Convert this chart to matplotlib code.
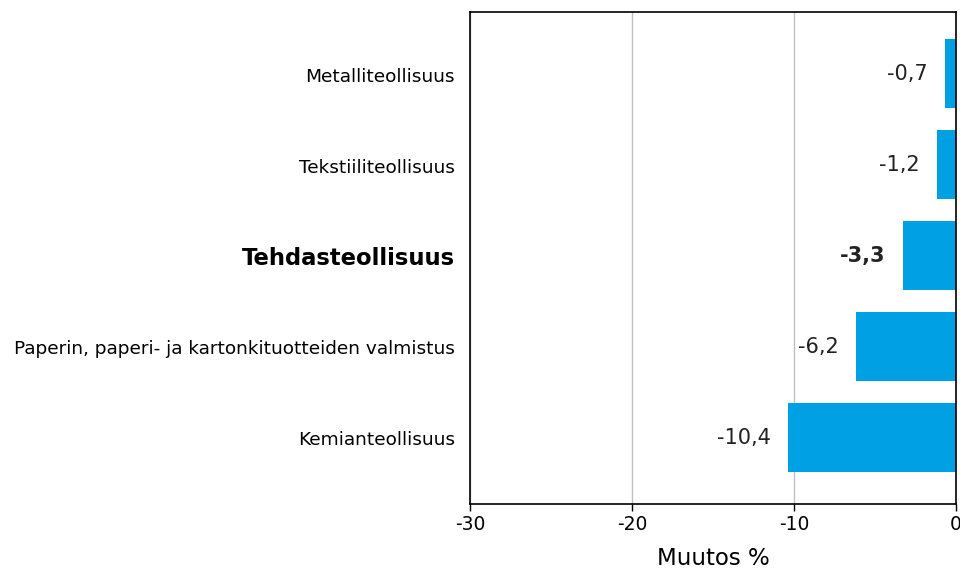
import matplotlib
matplotlib.use("Agg")
import matplotlib.pyplot as plt

categories = [
    "Metalliteollisuus",
    "Tekstiiliteollisuus",
    "Tehdasteollisuus",
    "Paperin, paperi- ja kartonkituotteiden valmistus",
    "Kemianteollisuus",
]
values = [-0.7, -1.2, -3.3, -6.2, -10.4]
value_labels = ["-0,7", "-1,2", "-3,3", "-6,2", "-10,4"]
bold_index = 2
xticks = [-30, -20, -10, 0]

plt.rcParams["font.family"] = ["DejaVu Sans"]

fig = plt.figure(figsize=(9.6, 5.71), dpi=100)
ax = fig.add_axes([470 / 960, 1 - 504 / 571, 486 / 960, 492 / 571])

ypos = list(range(len(categories)))
ax.barh(ypos, values, height=0.76, color="#00a0e4", zorder=2)
ax.set_xlim(-30, 0)
ax.set_ylim(4.73, -0.68)

ax.set_xticks(xticks)
ax.set_xticklabels([str(t) for t in xticks], fontsize=13.5)
ax.xaxis.grid(True, color="#c0c0c0", linewidth=1, zorder=0)
ax.tick_params(axis="x", direction="out", length=5, width=1, pad=3)
ax.set_yticks(ypos)
ax.set_yticklabels([])
ax.tick_params(axis="y", length=0)
for s in ax.spines.values():
    s.set_linewidth(1.2)
    s.set_color("black")

for i, (cat, v, lab) in enumerate(zip(categories, values, value_labels)):
    bold = i == bold_index
    ax.annotate(cat, xy=(0, i), xycoords=("axes fraction", "data"),
                xytext=(-11, -2), textcoords="offset points",
                ha="right", va="center",
                fontsize=16.3 if bold else 13.3,
                fontweight="bold" if bold else "normal")
    ax.annotate(lab, xy=(v, i), xytext=(-12, 0), textcoords="offset points",
                ha="right", va="center",
                fontsize=15 if bold else 15,
                fontweight="bold" if bold else "normal", color="#222222")

ax.set_xlabel("Muutos %", fontsize=16.5, labelpad=9)

fig.savefig("out.png", dpi=100)
